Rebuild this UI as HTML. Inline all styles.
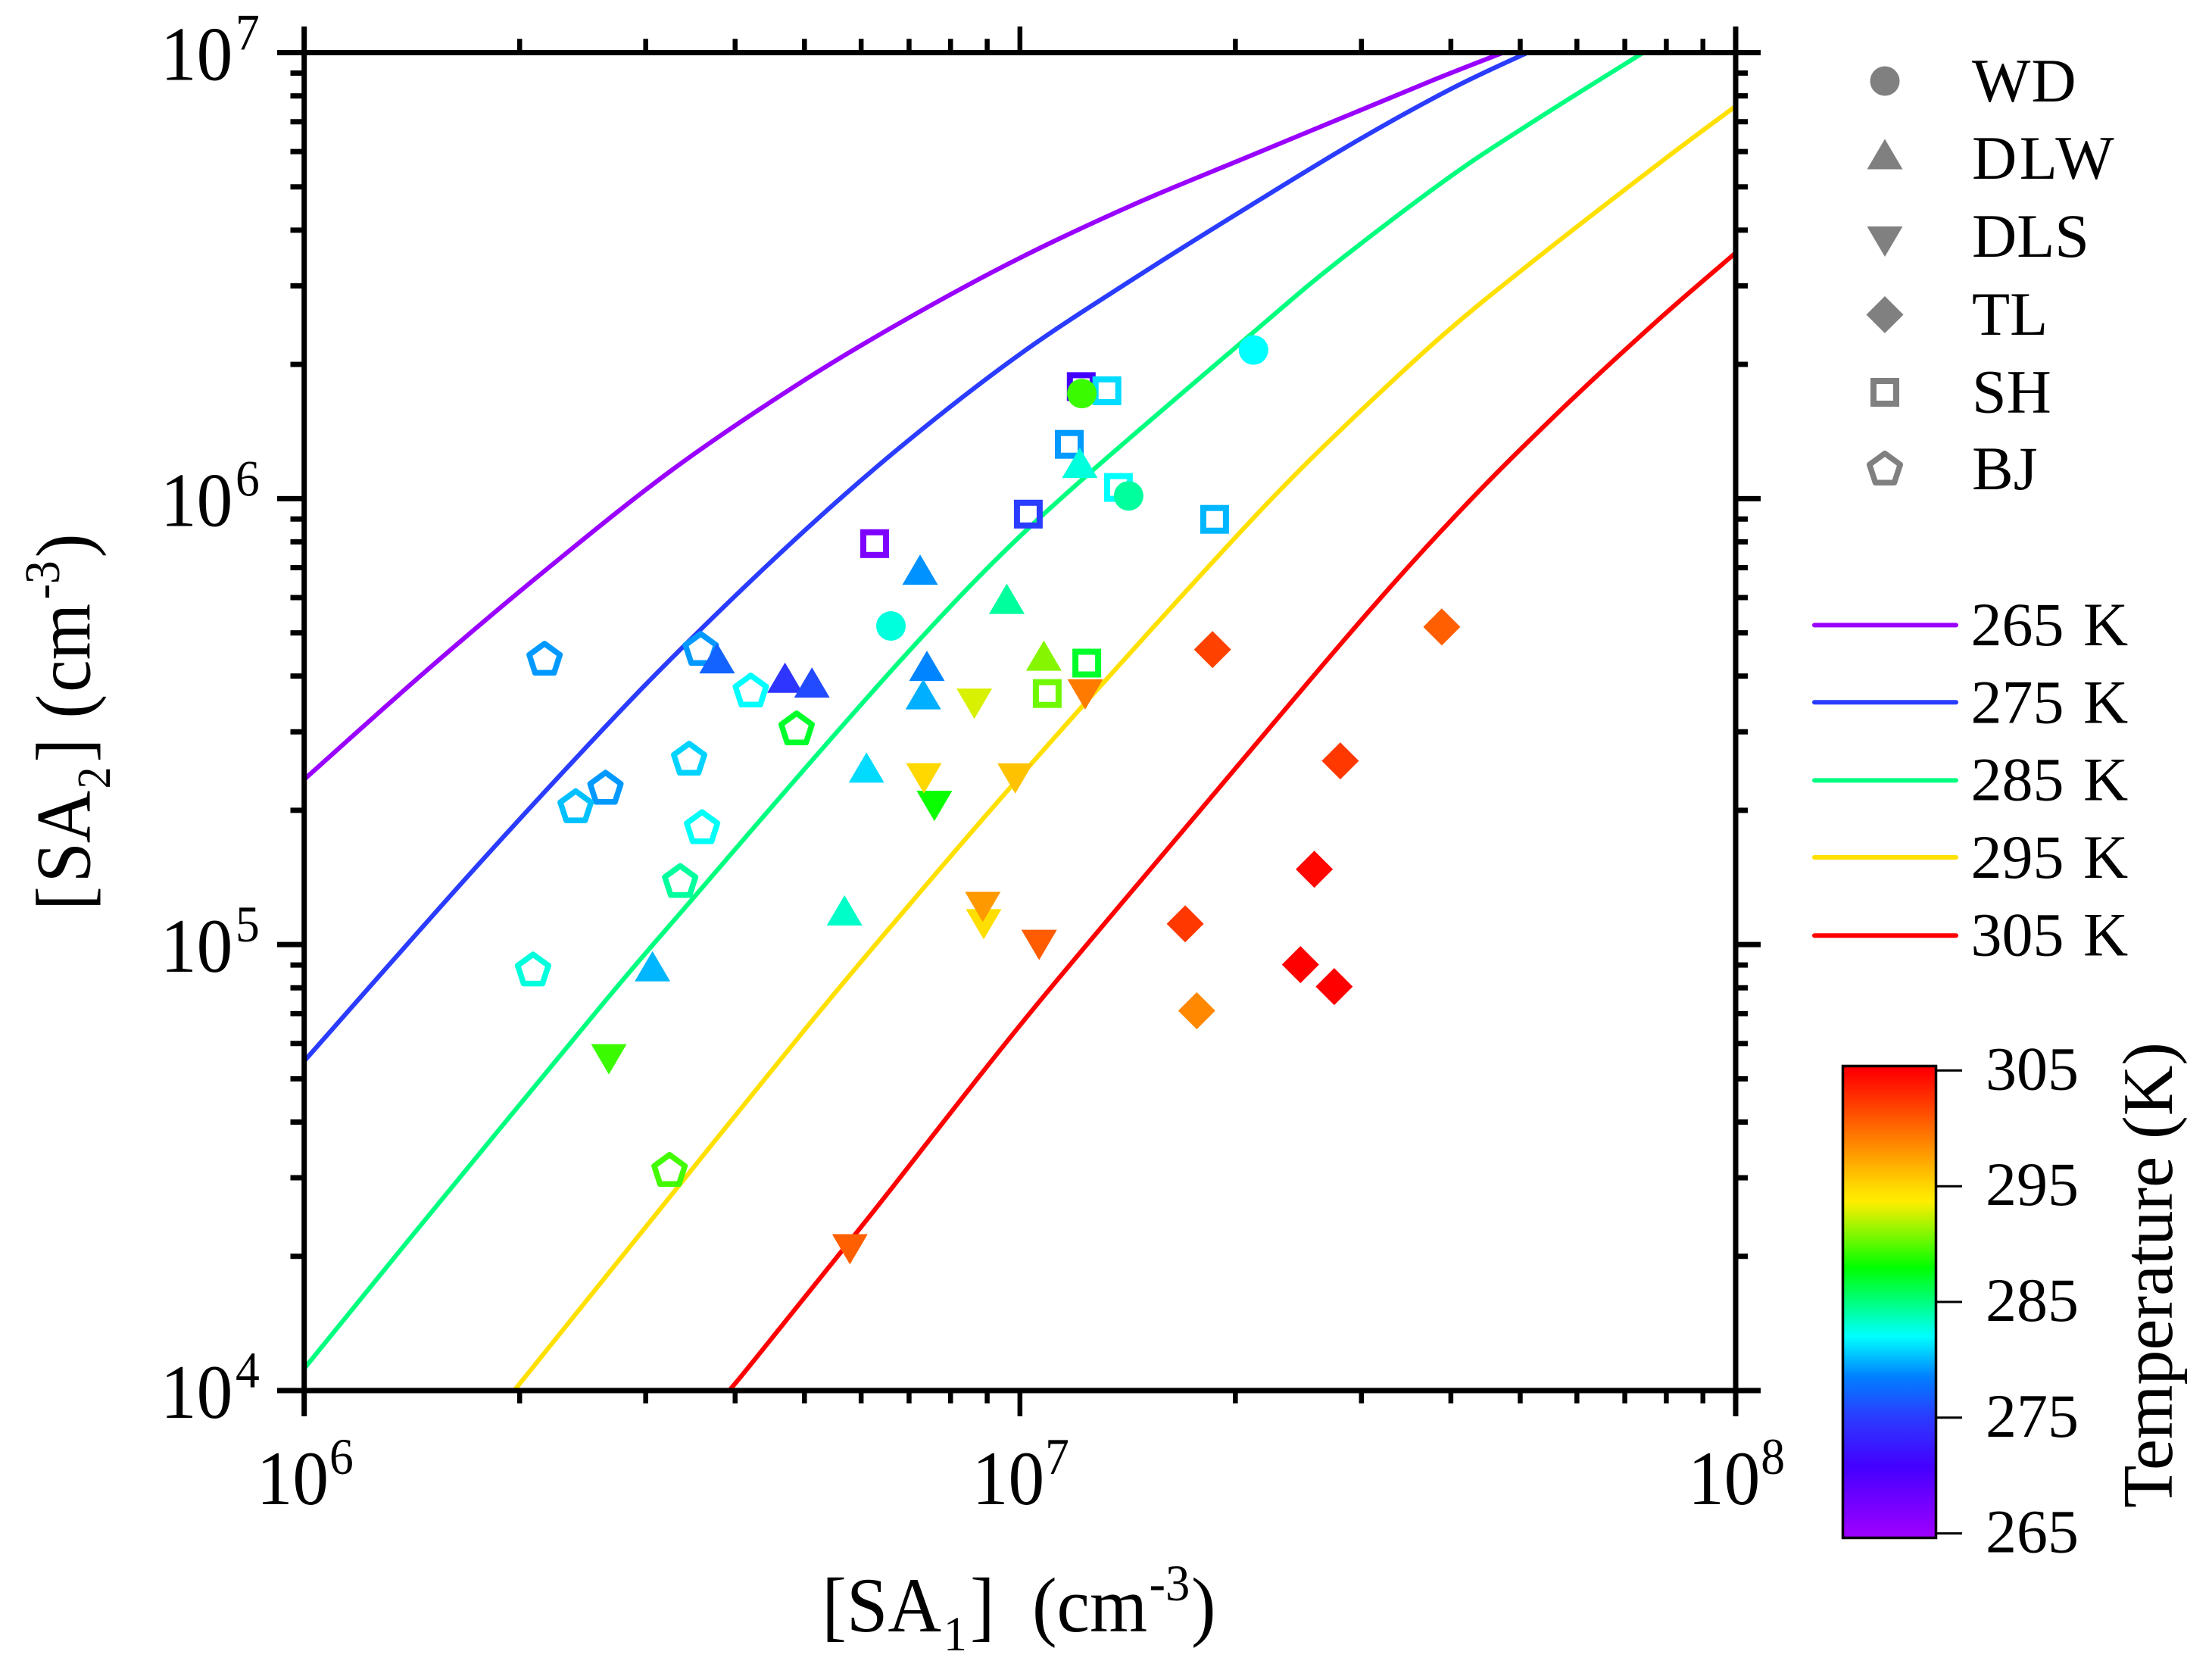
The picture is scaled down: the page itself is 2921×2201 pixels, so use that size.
<!DOCTYPE html>
<html lang="en">
<head>
<meta charset="utf-8">
<title>SA1 vs SA2 scatter with temperature colour scale</title>
<style>
  html, body { margin: 0; padding: 0; background: #ffffff; }
  svg { display: block; }
  text { font-family: "Liberation Serif", "Times New Roman", serif; fill: #000000; }
</style>
</head>
<body>
<svg id="chart" xmlns="http://www.w3.org/2000/svg" width="2921" height="2201" viewBox="0 0 2921 2201">
  <rect x="0" y="0" width="2921" height="2201" fill="#ffffff"/>
  <defs>
    <clipPath id="plot-clip"><rect x="401.7" y="69.5" width="1890.3" height="1766.5"/></clipPath>
    <linearGradient id="cbar-gradient" x1="0" y1="0" x2="0" y2="1"></linearGradient>
  </defs>
  <g id="curves" clip-path="url(#plot-clip)"></g>
  <g id="axes"></g>
  <g id="points"></g>

  <text transform="scale(.95,1)" font-size="103"><tspan x="1142.5" y="2154">[SA</tspan><tspan x="1311.6" y="2179" font-size="65">1</tspan><tspan x="1348.4" y="2154">] </tspan><tspan x="1434.7" y="2154">(cm</tspan><tspan x="1597.4" y="2113" font-size="68">-3</tspan><tspan x="1655.8" y="2154">)</tspan></text>

  <text transform="translate(118.3,1193.6) rotate(-90) scale(.93,1)" font-size="103"><tspan x="-9" y="0">[</tspan><tspan x="30.3" y="0">S</tspan><tspan x="86.6" y="0">A</tspan><tspan x="163.7" y="26.7" font-size="62">2</tspan><tspan x="201" y="0">] </tspan><tspan x="263.4" y="0">(</tspan><tspan x="300.8" y="0">cm</tspan><tspan x="432.5" y="-40.3" font-size="66">-3</tspan><tspan x="491.6" y="0">)</tspan></text>

  <g font-size="82">
    <circle cx="2489" cy="107" r="19.5" fill="#808080"/>
    <polygon points="2489,183.5 2512.5,223.5 2465.5,223.5" fill="#808080"/>
    <polygon points="2465.5,299 2512.5,299 2489,339" fill="#808080"/>
    <polygon points="2489,391 2513.5,415.5 2489,440 2464.5,415.5" fill="#808080"/>
    <rect x="2474" y="503" width="30" height="30" fill="none" stroke="#808080" stroke-width="8"/>
    <polygon points="2489,598.7 2509.3,613.4 2501.5,637.2 2476.5,637.2 2468.7,613.4" fill="none" stroke="#808080" stroke-width="7.5" stroke-linejoin="round"/>
    <text x="2604" y="134" letter-spacing="1">WD</text>
    <text x="2604" y="236" letter-spacing="3.5">DLW</text>
    <text x="2604" y="339">DLS</text>
    <text x="2604" y="442">TL</text>
    <text x="2604" y="544.5">SH</text>
    <text x="2604" y="646">BJ</text>
  </g>

  <g font-size="82" word-spacing="5" stroke-linecap="round">
    <line x1="2396" y1="825.4" x2="2583" y2="825.4" stroke="#9900ff" stroke-width="6"/>
    <line x1="2396" y1="927.2" x2="2583" y2="927.2" stroke="#2a3cff" stroke-width="6"/>
    <line x1="2396" y1="1030.4" x2="2583" y2="1030.4" stroke="#00ff7f" stroke-width="6"/>
    <line x1="2396" y1="1132" x2="2583" y2="1132" stroke="#ffe000" stroke-width="6"/>
    <line x1="2396" y1="1235.3" x2="2583" y2="1235.3" stroke="#ff0000" stroke-width="6"/>
    <text x="2602.5" y="851.8">265 K</text>
    <text x="2602.5" y="954.5">275 K</text>
    <text x="2602.5" y="1056.5">285 K</text>
    <text x="2602.5" y="1159">295 K</text>
    <text x="2602.5" y="1261.6">305 K</text>
  </g>

  <g id="colorbar">
    <rect x="2433.5" y="1407.5" width="123" height="623" fill="url(#cbar-gradient)" stroke="#000000" stroke-width="3.5"/>
  </g>
  <text transform="translate(2868,1991) rotate(-90) scale(.98,1)" font-size="94" x="0" y="0">Temperature (K)</text>

<script>
// ---- Axis ranges ----
const xDecades = [6, 7, 8];
const yDecades = [4, 5, 6, 7];
const minorMultipliers = [2, 3, 4, 5, 6, 7, 8, 9];
const colorbarTicks = [265, 275, 285, 295, 305];

// ---- Colour scale (temperature in K -> colour) ----
const cmapTemps = [264.5, 265, 270.7, 275, 278.5, 282, 285, 288, 293.7, 295, 305, 305.5];
const cmapColors = ['#9c00ff', '#9900ff', '#4400ff', '#2a3cff', '#0080ff', '#00ffff', '#00ff7f', '#00ff00', '#ffee00', '#ffd800', '#ff0000', '#ff0000'];

// ---- Model curves: [SA1], [SA2] in cm^-3 ----
const curve265SA1 = [1e6, 1.4813e6, 2.2061e6, 3.2856e6, 4.887e6, 6.992e6, 1.0051e7, 1.452e7, 2.0925e7, 2.979e7, 3.838e7, 4.7325e7];
const curve265SA2 = [2.346e5, 4.112e5, 7.047e5, 1.1681e6, 1.801e6, 2.543e6, 3.478e6, 4.589e6, 5.8585e6, 7.409e6, 8.766e6, 1e7];
const curve275SA1 = [1e6, 1.6773e6, 2.5634e6, 3.45e6, 5.008e6, 6.992e6, 1.0051e7, 1.452e7, 2.0925e7, 2.979e7, 4.0346e7, 5.1163e7];
const curve275SA2 = [5.479e4, 1.4002e5, 2.9376e5, 4.7985e5, 8.492e5, 1.3523e6, 2.1201e6, 3.1346e6, 4.5269e6, 6.386e6, 8.348e6, 1e7];
const curve285SA1 = [1e6, 1.3972e6, 2.5942e6, 3.45e6, 5.008e6, 6.992e6, 9.275e6, 1.2424e7, 2.0925e7, 2.749e7, 3.952e7, 5.192e7, 7.427e7];
const curve285SA2 = [1.12e4, 2.169e4, 7.26e4, 1.2404e5, 2.482e5, 4.5429e5, 7.3197e5, 1.1297e6, 2.3197e6, 3.35e6, 5.211e6, 6.976e6, 1e7];
const curve295SA1 = [1.965e6, 2.829e6, 5.008e6, 6.992e6, 9.667e6, 1.5061e7, 2.224e7, 2.95e7, 3.9138e7, 5.192e7, 7.779e7, 1e8];
const curve295SA2 = [1e4, 2.0694e4, 6.456e4, 1.224e5, 2.2386e5, 4.9703e5, 9.814e5, 1.5386e6, 2.3378e6, 3.3903e6, 5.613e6, 7.585e6];
const curve305SA1 = [3.925e6, 4.295e6, 6.2354e6, 1.0076e7, 1.7345e7, 3.0156e7, 4.241e7, 5.745e7, 7.779e7, 1e8];
const curve305SA2 = [1e4, 1.1925e4, 2.5162e4, 6.688e4, 1.8922e5, 5.3957e5, 9.8526e5, 1.6e6, 2.5085e6, 3.558e6];
const curveNames = ['265k', '275k', '285k', '295k', '305k'];
const curveColors = ['#9900ff', '#2a3cff', '#00ff7f', '#ffe000', '#ff0000'];

// ---- Measurement sites: [SA1], [SA2], temperature ----
const bjSA1 = [2.167e6, 3.581e6, 4.207e6, 4.875e6, 3.45e6, 2.636e6, 2.395e6, 3.597e6, 3.352e6, 2.088e6, 3.239e6];
const bjSA2 = [4.386e5, 4.614e5, 3.722e5, 3.061e5, 2.618e5, 2.253e5, 2.048e5, 1.838e5, 1.392e5, 8.817e4, 3.132e4];
const bjTemp = [279.2, 279.2, 282, 287, 280.8, 279.2, 280.3, 282.2, 284.3, 282.8, 289.5];

const shSA1 = [1.2179e7, 1.323e7, 1.1719e7, 1.3729e7, 1.0274e7, 1.8707e7, 6.266e6, 1.24e7, 1.0919e7];
const shSA2 = [1.783e6, 1.7457e6, 1.3235e6, 1.0592e6, 9.23e5, 8.984e5, 7.924e5, 4.277e5, 3.655e5];
const shTemp = [270.7, 281, 279.2, 282, 275, 280, 266.8, 287, 290.5];

const wdSA1 = [2.12e7, 1.2203e7, 1.4185e7, 6.603e6];
const wdSA2 = [2.154e6, 1.72e6, 1.0142e6, 5.181e5];
const wdTemp = [282, 289.3, 284.3, 282.8];

const dlwSA1 = [7.252e6, 3.774e6, 4.696e6, 5.122e6, 7.413e6, 7.327e6, 6.103e6, 5.687e6, 3.066e6, 9.585e6, 1.2125e7, 1.0798e7];
const dlwSA2 = [6.93e5, 4.386e5, 3.968e5, 3.87e5, 4.218e5, 3.642e5, 2.495e5, 1.193e5, 8.939e4, 5.961e5, 1.2027e6, 4.446e5];
const dlwTemp = [279, 277, 274.5, 275.7, 278.6, 279.8, 281, 283.3, 280, 284.3, 282.8, 291];

const dlsSA1 = [8.634e6, 7.595e6, 7.341e6, 9.848e6, 8.899e6, 8.873e6, 2.665e6, 1.2334e7, 1.0638e7, 5.786e6];
const dlsSA2 = [3.469e5, 2.046e5, 2.36e5, 2.357e5, 1.1105e5, 1.2145e5, 5.531e4, 3.638e5, 9.984e4, 2.074e4];
const dlsTemp = [292.8, 288.2, 295, 296, 294.6, 297.9, 289.3, 299.3, 300.8, 300.6];

const tlSA1 = [1.8585e7, 3.885e7, 2.803e7, 2.578e7, 1.702e7, 2.466e7, 2.749e7, 1.7662e7];
const tlSA2 = [4.587e5, 5.154e5, 2.582e5, 1.4756e5, 1.1135e5, 9.019e4, 8.05e4, 7.106e4];
const tlTemp = [302, 300.6, 302.4, 304.7, 302.4, 305, 305, 298.7];

// ---- Axis functions ----
const plotLeft = 401.7, plotRight = 2292, plotTop = 69.5, plotBottom = 1836;
const xScale = v => plotLeft + (Math.log10(v) - 6) / 2 * (plotRight - plotLeft);
const yScale = v => plotBottom - (Math.log10(v) - 4) / 3 * (plotBottom - plotTop);
const cbarScale = t => 2024.6 - (t - 265) / 40 * (2024.6 - 1413.4);

const NS = 'http://www.w3.org/2000/svg';
function make(tag, attrs, parent) {
  const node = document.createElementNS(NS, tag);
  for (const k in attrs) node.setAttribute(k, attrs[k]);
  parent.appendChild(node);
  return node;
}
function hexToRgb(h) {
  return [parseInt(h.slice(1, 3), 16), parseInt(h.slice(3, 5), 16), parseInt(h.slice(5, 7), 16)];
}
function tempColor(t) {
  if (t <= cmapTemps[0]) return cmapColors[0];
  for (let i = 1; i < cmapTemps.length; i++) {
    if (t <= cmapTemps[i]) {
      const f = (t - cmapTemps[i - 1]) / (cmapTemps[i] - cmapTemps[i - 1]);
      const a = hexToRgb(cmapColors[i - 1]), b = hexToRgb(cmapColors[i]);
      return 'rgb(' + a.map((c, j) => Math.round(c + (b[j] - c) * f)).join(',') + ')';
    }
  }
  return cmapColors[cmapColors.length - 1];
}

// ---- Curves (Catmull-Rom spline through the read points) ----
const curvesGroup = document.getElementById('curves');
function curvePath(xs, ys) {
  const px = xs.map(xScale), py = ys.map(yScale);
  let d = 'M' + px[0].toFixed(1) + ' ' + py[0].toFixed(1);
  for (let i = 0; i < px.length - 1; i++) {
    const i0 = Math.max(0, i - 1), i3 = Math.min(px.length - 1, i + 2);
    const c1x = px[i] + (px[i + 1] - px[i0]) / 6, c1y = py[i] + (py[i + 1] - py[i0]) / 6;
    const c2x = px[i + 1] - (px[i3] - px[i]) / 6, c2y = py[i + 1] - (py[i3] - py[i]) / 6;
    d += 'C' + c1x.toFixed(1) + ' ' + c1y.toFixed(1) + ' ' + c2x.toFixed(1) + ' ' + c2y.toFixed(1) + ' ' + px[i + 1].toFixed(1) + ' ' + py[i + 1].toFixed(1);
  }
  return d;
}
const curveX = [curve265SA1, curve275SA1, curve285SA1, curve295SA1, curve305SA1];
const curveY = [curve265SA2, curve275SA2, curve285SA2, curve295SA2, curve305SA2];
curveNames.forEach((name, i) => {
  const el = make('path', { d: curvePath(curveX[i], curveY[i]), fill: 'none', stroke: curveColors[i], 'stroke-width': 6 }, curvesGroup);
  
  
});

// ---- Axes ----
const axes = document.getElementById('axes');
function tickLine(x1, y1, x2, y2, w, name) {
  const el = make('line', { x1, y1, x2, y2, stroke: '#000', 'stroke-width': w }, axes);
  
  
}
tickLine(401.7, 35, 401.7, 1870, 7, 'y-axis-left-line');
tickLine(2292, 35, 2292, 1870, 7, 'y-axis-right-line');
tickLine(366, 69.5, 2325, 69.5, 7, 'x-axis-top-line');
tickLine(366, 1836, 2325, 1836, 7, 'x-axis-bottom-line');

xDecades.forEach((dec, i) => {
  const major = xScale(Math.pow(10, dec));
  tickLine(major, plotTop, major, 35, 6.5, 'x-top-major-tick');
  tickLine(major, plotBottom, major, 1870, 6.5, 'x-bottom-major-tick');
  if (i < xDecades.length - 1) {
    minorMultipliers.forEach(m => {
      const x = xScale(m * Math.pow(10, dec));
      tickLine(x, plotTop, x, 51.3, 6.5, 'x-top-minor-tick');
      tickLine(x, plotBottom, x, 1853, 6.5, 'x-bottom-minor-tick');
    });
  }
  const label = make('text', { transform: 'translate(' + (major - 63).toFixed(1) + ',1986) scale(.935,1)', 'font-size': 102 }, axes);
  
  
  make('tspan', { x: 0, y: 0 }, label).textContent = '10';
  make('tspan', { x: 103, y: -40, 'font-size': 68 }, label).textContent = String(dec);
});

yDecades.forEach((dec, i) => {
  const major = yScale(Math.pow(10, dec));
  tickLine(plotLeft, major, 366, major, 7, 'y-left-major-tick');
  tickLine(plotRight, major, 2325, major, 7, 'y-right-major-tick');
  if (i < yDecades.length - 1) {
    minorMultipliers.forEach(m => {
      const y = yScale(m * Math.pow(10, dec));
      tickLine(plotLeft, y, 383.5, y, 7, 'y-left-minor-tick');
      tickLine(plotRight, y, 2308, y, 7, 'y-right-minor-tick');
    });
  }
  const label = make('text', { transform: 'translate(212,' + (major + 36).toFixed(1) + ') scale(.935,1)', 'font-size': 102 }, axes);
  
  
  make('tspan', { x: 0, y: 0 }, label).textContent = '10';
  make('tspan', { x: 105.9, y: -40, 'font-size': 68 }, label).textContent = String(dec);
});

// ---- Marker shapes ----
const pointsGroup = document.getElementById('points');
function drawCircle(cx, cy, color) {
  return make('circle', { cx: cx.toFixed(1), cy: cy.toFixed(1), r: 19.5, fill: color }, pointsGroup);
}
function polyPoints(cx, cy, offsets) {
  return offsets.map(o => (cx + o[0]).toFixed(1) + ',' + (cy + o[1]).toFixed(1)).join(' ');
}
function drawUp(cx, cy, color) {
  return make('polygon', { points: polyPoints(cx, cy, [[0, -20], [23.5, 20], [-23.5, 20]]), fill: color }, pointsGroup);
}
function drawDown(cx, cy, color) {
  return make('polygon', { points: polyPoints(cx, cy, [[-23.5, -20], [23.5, -20], [0, 20]]), fill: color }, pointsGroup);
}
function drawDiamond(cx, cy, color) {
  return make('polygon', { points: polyPoints(cx, cy, [[0, -24.5], [24.5, 0], [0, 24.5], [-24.5, 0]]), fill: color }, pointsGroup);
}
function drawSquare(cx, cy, color) {
  return make('rect', { x: (cx - 15).toFixed(1), y: (cy - 15).toFixed(1), width: 30, height: 30, fill: 'none', stroke: color, 'stroke-width': 8 }, pointsGroup);
}
function drawPentagon(cx, cy, color) {
  const offs = [];
  for (let k = 0; k < 5; k++) {
    const a = -Math.PI / 2 + k * 2 * Math.PI / 5;
    offs.push([21.3 * Math.cos(a), 2 + 21.3 * Math.sin(a)]);
  }
  return make('polygon', { points: polyPoints(cx, cy, offs), fill: 'none', stroke: color, 'stroke-width': 7.5, 'stroke-linejoin': 'round' }, pointsGroup);
}

bjSA1.forEach((v, i) => {
  const el = drawPentagon(xScale(v), yScale(bjSA2[i]), tempColor(bjTemp[i]));
  
  
});
shSA1.forEach((v, i) => {
  const el = drawSquare(xScale(v), yScale(shSA2[i]), tempColor(shTemp[i]));
  
  
});
wdSA1.forEach((v, i) => {
  const el = drawCircle(xScale(v), yScale(wdSA2[i]), tempColor(wdTemp[i]));
  
  
});
dlwSA1.forEach((v, i) => {
  const el = drawUp(xScale(v), yScale(dlwSA2[i]), tempColor(dlwTemp[i]));
  
  
});
dlsSA1.forEach((v, i) => {
  const el = drawDown(xScale(v), yScale(dlsSA2[i]), tempColor(dlsTemp[i]));
  
  
});
tlSA1.forEach((v, i) => {
  const el = drawDiamond(xScale(v), yScale(tlSA2[i]), tempColor(tlTemp[i]));
  
  
});

// ---- Colour bar ----
const grad = document.getElementById('cbar-gradient');
cmapTemps.forEach((t, i) => {
  make('stop', { offset: ((305.5 - t) / 41).toFixed(4), 'stop-color': cmapColors[i] }, grad);
});
// stops must be ascending in offset
Array.from(grad.children).reverse().forEach(s => grad.appendChild(s));
const cbar = document.getElementById('colorbar');
colorbarTicks.forEach(t => {
  const y = cbarScale(t);
  const tick = make('line', { x1: 2558, y1: y, x2: 2591, y2: y, stroke: '#000', 'stroke-width': 3 }, cbar);
  
  
  const label = make('text', { x: 2622, y: (y + 25).toFixed(1), 'font-size': 82 }, cbar);
  
  
  label.textContent = String(t);
});
</script>
</svg>
</body>
</html>
